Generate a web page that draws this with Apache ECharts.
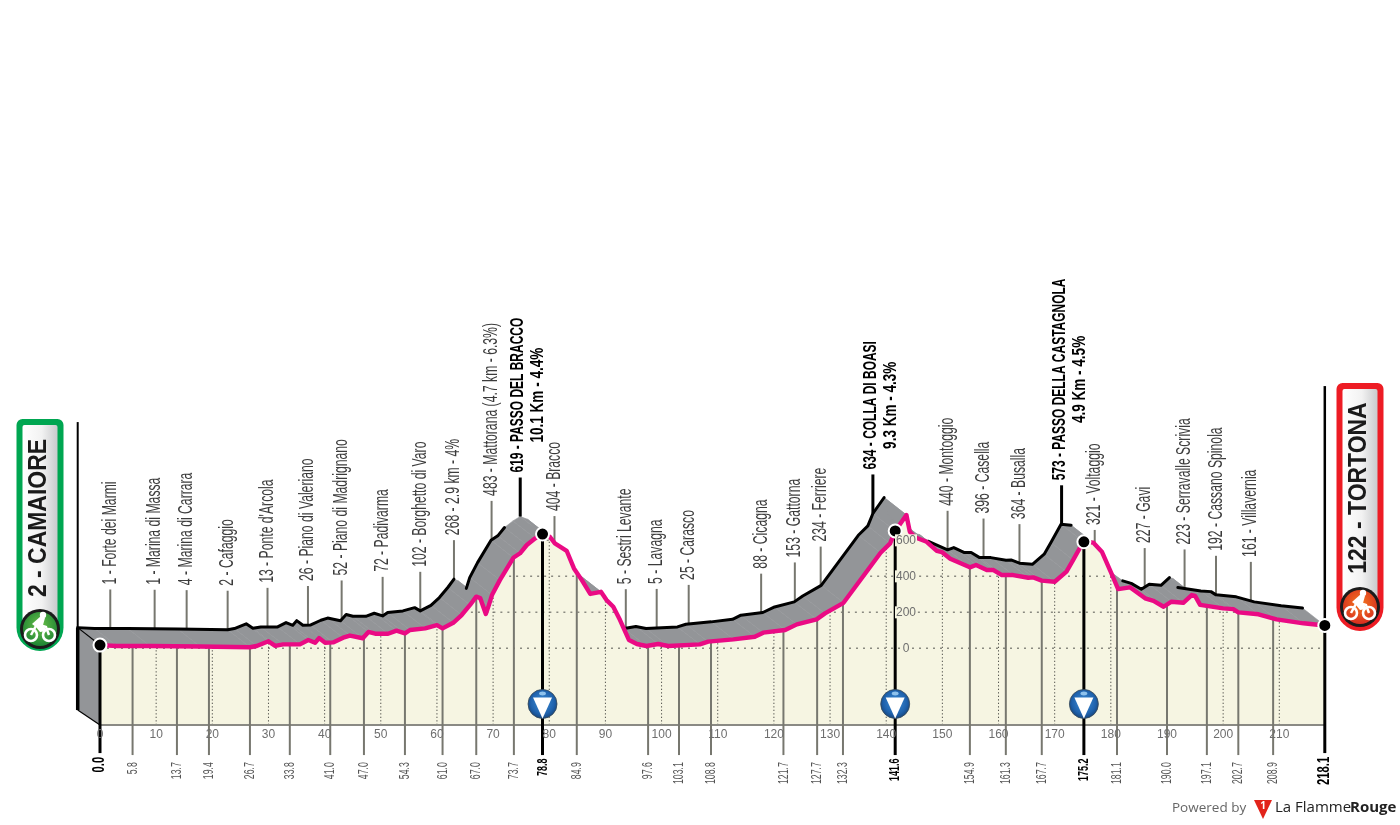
<!DOCTYPE html>
<html><head><meta charset="utf-8">
<style>html,body{margin:0;padding:0;background:#fff}#c{width:1400px;height:825px}</style>
<script src="https://cdn.jsdelivr.net/npm/echarts@6/dist/echarts.min.js"></script>
</head><body><div id="c"></div>
<script>
const profileKm=[0,3,8.9,17.8,26.7,27.9,30,31.2,32.6,35.6,37.1,38.3,39,40.1,41.5,43.3,44.5,46.8,47.8,49,51.3,52.8,54.3,55.2,57.9,60,61,62.9,64.4,65.9,67,67.7,68.7,69.2,69.8,71.2,73.6,74.8,76,77.5,78.8,80.1,81,83.1,84.4,85.8,87.3,89.2,90.2,91.4,92.6,94.2,95.6,97.3,99.4,101.2,106.8,108.3,112.8,116.6,118.1,122,124.1,127.6,129.1,132.4,139,140.7,141.6,143.6,144.2,145.1,147.2,149,149.9,151.4,154.9,156,157.9,159.1,160.6,162.6,165.3,166.2,167.7,170,172.1,173.3,175.1,176.9,178.4,180.1,181.3,183.4,186.1,187.6,189.4,190.8,192.9,194.4,195,195.9,200,201.8,202.7,206.3,209.5,214.3,218.1];
const profileEle=[18,13,13,10,6,13,39,14,22,22,46,31,57,31,33,59,71,56,91,81,81,98,83,102,111,129,111,142,185,241,287,279,191,236,296,379,503,528,574,611,635,620,583,542,444,379,302,314,268,231,157,46,24,13,24,13,22,37,50,64,87,102,133,161,194,253,531,583,652,741,648,617,592,542,535,498,450,463,435,435,407,407,392,394,376,370,426,491,592,587,537,417,329,339,278,264,231,259,253,296,291,241,222,218,200,189,161,139,127];
const placeKm=[5.8,13.7,19.4,26.7,33.8,41.0,47.0,54.3,61.0,67.0,73.7,84.9,97.6,103.1,108.8,121.7,127.7,132.3,154.9,161.3,167.7,181.1,190.0,197.1,202.7,208.9];
const placeNames=["1 - Forte dei Marmi","1 - Marina di Massa","4 - Marina di Carrara","2 - Cafaggio","13 - Ponte d'Arcola","26 - Piano di Valeriano","52 - Piano di Madrignano","72 - Padivarma","102 - Borghetto di Varo","268 - 2.9 km - 4%","483 - Mattorana (4.7 km - 6.3%)","404 - Bracco","5 - Sestri Levante","5 - Lavagna","25 - Carasco","88 - Cicagna","153 - Gattorna","234 - Ferriere","440 - Montoggio","396 - Casella","364 - Busalla","321 - Voltaggio","227 - Gavi","223 - Serravalle Scrivia","192 - Cassano Spinola","161 - Villavernia"];
const climbKm=[78.8,141.6,175.2];
const climbNames=["619 - PASSO DEL BRACCO","634 - COLLA DI BOASI","573 - PASSO DELLA CASTAGNOLA"];
const climbNotes=["10.1 Km - 4.4%","9.3 Km - 4.3%","4.9 Km - 4.5%"];
const endKm=[0,218.1];
const endTickLabels=["0.0","218.1"];
const gridLevels=[0,200,400,600];
const kmTicks=[0,10,20,30,40,50,60,70,80,90,100,110,120,130,140,150,160,170,180,190,200,210];
const startName="2 - CAMAIORE", finishName="122 - TORTONA";

const ridgeDx=3.97, ridgeDy=97, stemRise=217, footEle=-593, endFootEle=-582, tickLabelEle=-633, climbLabelEle=-612, endLabelEle=-603, baseEle=-426, badgeEle=-309;
const hiddenRidge=[[67.3,69.0],[76.1,96.4],[144,151],[177,186],[194.6,195.5]];
const NARROW="'Liberation Sans Narrow','Liberation Sans',sans-serif";
const PINK='#ea0a84', GREY='#939598', CREAM='#f6f5e2', STEM='#77776f';

function eleAt(k){
  for(let i=1;i<profileKm.length;i++){
    if(k<=profileKm[i]){const a=profileKm[i-1],b=profileKm[i];
      return profileEle[i-1]+(profileEle[i]-profileEle[i-1])*(k-a)/(b-a);}
  }
  return profileEle[profileEle.length-1];
}
function intervalsAbove(L){
  const out=[];let start=null;
  for(let i=0;i<profileKm.length;i++){
    const e=profileEle[i],k=profileKm[i];
    if(e>L&&start===null){
      if(i===0)start=k;else{const p=profileEle[i-1];start=profileKm[i-1]+(L-p)/(e-p)*(k-profileKm[i-1]);}
    }else if(e<=L&&start!==null){
      const p=profileEle[i-1];out.push([start,profileKm[i-1]+(L-p)/(e-p)*(k-profileKm[i-1])]);start=null;
    }
  }
  if(start!==null)out.push([start,profileKm[profileKm.length-1]]);
  return out;
}
const mctx=document.createElement('canvas').getContext('2d');
function textLen(t,font){mctx.font=font;return mctx.measureText(t).width;}

const xy=profileKm.map((k,i)=>[k,profileEle[i]]);
const ridge=profileKm.map((k,i)=>hiddenRidge.some(r=>k>=r[0]&&k<=r[1])?[k-ridgeDx,null]:[k-ridgeDx,profileEle[i]+ridgeDy]);

const chart=echarts.init(document.getElementById('c'),null,{renderer:'canvas'});

function custom(z,data,renderItem){
  return {type:'custom',coordinateSystem:'cartesian2d',z,silent:true,clip:false,data,renderItem,animation:false,
    encode:{x:0,y:1}};
}
const ln=(a,b,style)=>({type:'line',shape:{x1:a[0],y1:a[1],x2:b[0],y2:b[1]},style});

const series=[
 custom(1,xy.slice(0,-1),(p,api)=>{
   const i=p.dataIndex,k0=profileKm[i],k1=profileKm[i+1],e0=profileEle[i],e1=profileEle[i+1];
   const pts=[api.coord([k0,e0]),api.coord([k1,e1]),api.coord([k1-ridgeDx,e1+ridgeDy]),api.coord([k0-ridgeDx,e0+ridgeDy])];
   return {type:'polygon',shape:{points:pts},style:{fill:GREY,stroke:GREY,lineWidth:0.6}};
 }),
 custom(1,[[0,0]],(p,api)=>{
   const a=api.coord([-ridgeDx,profileEle[0]+ridgeDy]),b=api.coord([0,profileEle[0]]),c=api.coord([0,baseEle]),d=api.coord([-ridgeDx,-343]);
   return {type:'group',children:[
     {type:'polygon',shape:{points:[a,b,c,d]},style:{fill:GREY}},
     ln(a,b,{stroke:'#000',lineWidth:1.2}),
     ln(d,c,{stroke:'#000',lineWidth:1.2}),
     ln(a,d,{stroke:'#000',lineWidth:3.5}),
     ln(api.coord([-ridgeDx,1257]),a,{stroke:'#000',lineWidth:2}),
     ln(api.coord([218.1,1457]),api.coord([218.1,profileEle[profileEle.length-1]]),{stroke:'#000',lineWidth:2.5})
   ]};
 }),
 custom(2,placeKm.map(k=>[k,eleAt(k)]),(p,api)=>{
   const k=api.value(0),e=api.value(1);
   return ln(api.coord([k-ridgeDx,e+ridgeDy]),api.coord([k-ridgeDx,e+ridgeDy+stemRise]),{stroke:STEM,lineWidth:2});
 }),
 custom(2,climbKm.map(k=>[k,eleAt(k)]),(p,api)=>{
   const k=api.value(0),e=api.value(1);
   return ln(api.coord([k-ridgeDx,e+ridgeDy]),api.coord([k-ridgeDx,e+ridgeDy+stemRise]),{stroke:'#000',lineWidth:3});
 }),
 {type:'line',z:3,data:ridge,showSymbol:false,connectNulls:false,silent:true,
   lineStyle:{color:'#000',width:3,join:'round',cap:'round'}},
 {type:'line',z:4,data:xy,showSymbol:false,silent:true,lineStyle:{width:0},
   areaStyle:{origin:'start',color:CREAM,opacity:1}},
 custom(5,gridLevels.map(L=>[0,L]),(p,api)=>{
   const L=api.value(1);
   return {type:'group',children:intervalsAbove(L).map(r=>ln(api.coord([r[0],L]),api.coord([r[1],L]),{stroke:'#8a8a80',lineWidth:1.5,lineDash:[2,5]}))};
 }),
 custom(5,kmTicks.slice(1).map(k=>[k,baseEle]),(p,api)=>{
   const k=api.value(0);
   return ln(api.coord([k,baseEle]),api.coord([k,eleAt(k)]),{stroke:'#55554f',lineWidth:1,lineDash:[1.3,2.2]});
 }),
 custom(5,[[0,baseEle]],(p,api)=>ln(api.coord([0,baseEle]),api.coord([218.1,baseEle]),{stroke:'#8a8a84',lineWidth:2})),
 custom(6,placeKm.map(k=>[k,eleAt(k)]),(p,api)=>{
   const k=api.value(0);
   return ln(api.coord([k,api.value(1)]),api.coord([k,footEle]),{stroke:STEM,lineWidth:2});
 }),
 custom(7,climbKm.map(k=>[k,eleAt(k)]),(p,api)=>{
   const k=api.value(0);
   return ln(api.coord([k,api.value(1)]),api.coord([k,footEle]),{stroke:'#000',lineWidth:3});
 }),
 custom(7,endKm.map(k=>[k,eleAt(k)]),(p,api)=>{
   const k=api.value(0);
   return ln(api.coord([k,api.value(1)]),api.coord([k,endFootEle]),{stroke:'#000',lineWidth:3});
 }),
 {type:'line',z:8,data:xy,showSymbol:false,silent:true,lineStyle:{color:PINK,width:4.4,join:'round'}},
 custom(9,climbKm.map(k=>[k,badgeEle]),(p,api)=>{
   const c=api.coord([api.value(0),api.value(1)]);
   return {type:'group',x:c[0],y:c[1],children:[
     {type:'circle',shape:{cx:0,cy:0,r:14.5},style:{fill:{type:'radial',x:0.5,y:0.45,r:0.6,colorStops:[{offset:0,color:'#3f8fd6'},{offset:0.65,color:'#1f62ad'},{offset:1,color:'#123a6b'}]},stroke:'#3a4a58',lineWidth:0.8}},
     {type:'polygon',shape:{points:[[-9.5,-6.5],[9.5,-6.5],[0,14.5]]},style:{fill:'#fff'}},
     {type:'ellipse',shape:{cx:0,cy:-10.5,rx:3.5,ry:2},style:{fill:'#8fc2ec'}}
   ]};
 }),
 {type:'scatter',z:10,silent:true,symbolSize:13,data:climbKm.concat(endKm).map(k=>[k,eleAt(k)]),
   itemStyle:{color:'#000',borderColor:'#fff',borderWidth:2,opacity:1}},
 custom(11,placeKm.map((k,i)=>[k,eleAt(k),i]),(p,api)=>{
   const k=api.value(0),e=api.value(1),t=placeNames[api.value(2)];
   const c=api.coord([k-ridgeDx,e+ridgeDy+stemRise]);
   return {type:'text',x:c[0],y:c[1]-5,rotation:Math.PI/2,scaleX:0.61,
     style:{text:t,font:"20px "+NARROW,fill:'#3c3c3c',align:'left',verticalAlign:'middle'}};
 }),
 custom(11,climbKm.map((k,i)=>[k,eleAt(k),i]),(p,api)=>{
   const k=api.value(0),e=api.value(1),i=api.value(2);
   const c=api.coord([k-ridgeDx,e+ridgeDy+stemRise]);
   const f="bold 19px "+NARROW,sc=0.63,len=textLen(climbNames[i],f)*sc;
   return {type:'group',children:[
     {type:'text',x:c[0]-2,y:c[1]-5,rotation:Math.PI/2,scaleX:sc,style:{text:climbNames[i],font:f,fill:'#000',align:'left',verticalAlign:'middle'}},
     {type:'text',x:c[0]+18,y:c[1]-5-len/2,rotation:Math.PI/2,scaleX:sc*1.13,style:{text:climbNotes[i],font:f,fill:'#000',align:'center',verticalAlign:'middle'}}
   ]};
 }),
 custom(11,placeKm.map(k=>[k,tickLabelEle]),(p,api)=>{
   const c=api.coord([api.value(0),api.value(1)]);
   return {type:'text',x:c[0],y:c[1],rotation:Math.PI/2,scaleX:0.58,
     style:{text:placeKm[p.dataIndex].toFixed(1),font:"15px "+NARROW,fill:'#555',align:'right',verticalAlign:'middle'}};
 }),
 custom(11,climbKm.map(k=>[k,climbLabelEle]),(p,api)=>{
   const c=api.coord([api.value(0),api.value(1)]);
   return {type:'text',x:c[0],y:c[1],rotation:Math.PI/2,scaleX:0.6,
     style:{text:climbKm[p.dataIndex].toFixed(1),font:"bold 15px "+NARROW,fill:'#000',align:'right',verticalAlign:'middle'}};
 }),
 custom(11,endKm.map(k=>[k,endLabelEle]),(p,api)=>{
   const c=api.coord([api.value(0),api.value(1)]);
   return {type:'text',x:c[0],y:c[1],rotation:Math.PI/2,scaleX:0.7,
     style:{text:endTickLabels[p.dataIndex],font:"bold 16px "+NARROW,fill:'#000',align:'right',verticalAlign:'middle'}};
 })
];

function cyclist(cx,cy,fillStops){
  const sp=(cx0,cy0,r,col,w)=>({type:'circle',shape:{cx:cx0,cy:cy0,r},style:{fill:'none',stroke:col,lineWidth:w}});
  return {type:'group',x:cx,y:cy,children:[
    {type:'circle',shape:{cx:0,cy:0,r:20},style:{fill:'#1b1b1b'}},
    {type:'circle',shape:{cx:0,cy:0,r:17},style:{fill:{type:'radial',x:0.5,y:0.4,r:0.7,colorStops:fillStops}}},
    sp(-9,6,6,'#fff',2.6),sp(9,6,6,'#fff',2.6),
    {type:'polyline',shape:{points:[[-9,6],[-3,-5],[6,-2],[9,6]]},style:{fill:'none',stroke:'#fff',lineWidth:2.5}},
    {type:'polygon',shape:{points:[[-8,-5],[1,-13],[5,-11],[3,-4],[7,2],[0,3],[-4,-2]]},style:{fill:'#fff'}},
    {type:'circle',shape:{cx:3,cy:-14,r:3.2},style:{fill:'#fff'}}
  ]};
}
function plaque(x,y,w,h,col,name,midY,iconStops,iconCy){
  return [
    {type:'rect',shape:{x:x,y:y,width:w,height:h,r:[6,6,w/2,w/2]},style:{fill:col}},
    {type:'rect',shape:{x:x+6,y:y+6,width:w-12,height:h-12,r:[2,2,w/2-6,w/2-6]},
      style:{fill:{type:'linear',x:0,y:0,x2:1,y2:0,colorStops:[{offset:0,color:'#fff'},{offset:0.55,color:'#f2f2f2'},{offset:1,color:'#c9cacc'}]}}},
    {type:'text',x:x+w/2-1,y:midY,rotation:Math.PI/2,scaleX:0.9,style:{text:name,font:"bold 25.5px 'Liberation Sans',sans-serif",fill:'#1a1a1a',align:'center',verticalAlign:'middle'}},
    cyclist(x+w/2,iconCy,iconStops)
  ];
}
const graphic=[].concat(
  plaque(16.5,419,47,232,'#00a651',startName,518,[{offset:0,color:'#6cc04a'},{offset:1,color:'#0f7a2f'}],629),
  plaque(1336.5,383,47,248,'#ed1c24',finishName,488,[{offset:0,color:'#f47b20'},{offset:1,color:'#d3201f'}],607),
  [
   {type:'text',x:1172,y:808,style:{text:'Powered by',font:"13.5px 'Open Sans',sans-serif",fill:'#666',align:'left',verticalAlign:'middle'}},
   {type:'polygon',shape:{points:[[1254,800],[1272,800],[1263,819]]},style:{fill:'#e2231a'}},
   {type:'text',x:1263,y:806,style:{text:'1',font:"bold 10px 'Open Sans',sans-serif",fill:'#fff',align:'center',verticalAlign:'middle'}},
   {type:'text',x:1275,y:808,style:{text:'La Flamme',font:"15px 'Open Sans',sans-serif",fill:'#222',align:'left',verticalAlign:'middle'}},
   {type:'text',x:1350,y:808,style:{text:'Rouge',font:"bold 15px 'Open Sans',sans-serif",fill:'#222',align:'left',verticalAlign:'middle'}}
  ]);

chart.setOption({
  animation:false,backgroundColor:'#fff',
  grid:{left:43.84,right:75.2,top:0,bottom:100,containLabel:false},
  xAxis:{type:'value',min:-10,max:218.1,interval:10,z:12,
    axisLine:{show:false},axisTick:{show:false},splitLine:{show:false},
    axisLabel:{customValues:kmTicks,margin:4,fontFamily:NARROW,fontSize:12,color:'#6e6e6e',lineHeight:12}},
  yAxis:{type:'value',min:-426,max:3602,position:'left',offset:-862.16,z:12,
    axisLine:{show:false},axisTick:{show:false},splitLine:{show:false},
    axisLabel:{customValues:gridLevels,inside:false,align:'center',margin:0,fontFamily:NARROW,fontSize:12,color:'#6e6e6e',
      backgroundColor:CREAM,padding:[0,1]}},
  graphic:{elements:graphic},
  series
});
</script></body></html>
